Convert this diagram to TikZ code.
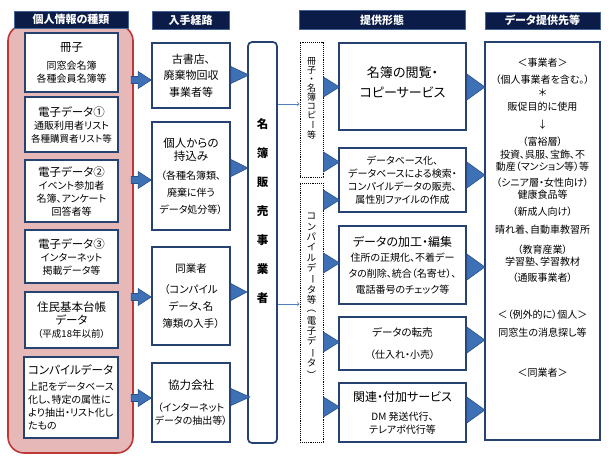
\documentclass[tikz,border=0pt]{standalone}
\usepackage{fontspec}
\setmainfont[RawFeature=+palt]{Noto Sans CJK JP}
\usepackage{xcolor}
\usetikzlibrary{positioning}
\definecolor{navy}{RGB}{12,28,72}
\definecolor{hdrline}{RGB}{70,100,150}
\definecolor{boxblue}{RGB}{38,66,112}
\definecolor{pinkbg}{RGB}{230,184,184}
\definecolor{pinkline}{RGB}{190,55,55}
\definecolor{triblue}{RGB}{62,112,182}
\definecolor{tridark}{RGB}{40,80,140}
\definecolor{arrblue}{RGB}{80,130,190}
\newcommand\fta{\fontsize{11.5}{14}\selectfont}
\newcommand\vrt[1]{\rotatebox[origin=c]{-90}{#1}}
\newcommand\tri[3]{\draw[tri] #1 -- ++(0,-#2) -- ++(#3,#2) -- ++(-#3,#2) -- cycle;}
\newcommand\blk[1]{\draw[tri] #1 -- ++(-13,-8.5) -- ++(0,5) -- ++(-7,0) -- ++(0,7) -- ++(7,0) -- ++(0,5) -- cycle;}
\begin{document}
\begin{tikzpicture}[x=1pt,y=-1pt,
   hdr/.style={draw=hdrline,fill=navy,text=white,line width=0.8pt,inner sep=0pt,
      font=\bfseries\fontsize{11}{12}\selectfont},
   item/.style={draw=boxblue,fill=white,line width=1.7pt,align=center,inner sep=1pt,
      font=\fontsize{10}{13}\selectfont},
   tri/.style={fill=triblue,draw=tridark,line width=0.6pt},
   dots/.style={draw,densely dotted,line width=0.9pt},
   lnk/.style={->,draw=arrblue,line width=0.7pt},
   vtxt/.style={align=center,inner sep=0pt},
   dtxt/.style={inner sep=0pt,font=\fontsize{10}{12}\selectfont}]
   \useasboundingbox (0,0) rectangle (610,464);
   % left column
   \node[draw=pinkline,fill=pinkbg,line width=1.6pt,rounded corners=16,
      minimum width=125,minimum height=428] (bg) at (70.5,239) {};
   \node[hdr,minimum width=114,minimum height=17] (h1) at (71,19.5) {個人情報の種類};
   \node[item,minimum width=93,minimum height=59] (sa) at (71.5,62.5)
      {{\fta 冊子}\\[5pt]同窓会名簿\\各種会員名簿等};
   \node[item,minimum width=93,minimum height=55] (e1) at (71.5,124.5)
      {{\fta 電子データ①}\\通販利用者リスト\\{\fontsize{9.5}{13}\selectfont 各種購買者リスト等}};
   \node[item,minimum width=93,minimum height=62] (e2) at (71.5,191)
      {{\fta 電子データ②}\\イベント参加者\\名簿、アンケート\\回答者等};
   \node[item,minimum width=93,minimum height=53] (e3) at (71.5,256.5)
      {{\fta 電子データ③}\\インターネット\\掲載データ等};
   \node[item,minimum width=93,minimum height=56] (ju) at (71.5,320)
      {{\fta 住民基本台帳}\\{\fta データ}\\{\fontsize{9.5}{12}\selectfont （平成18年以前）}};
   \node[item,minimum width=94,minimum height=81,align=left] (co) at (71,397.5)
      {{\fta コンパイルデータ}\\[3pt]上記をデータベース\\化し、特定の属性に\\より抽出・リスト化し\\たもの};
   % acquisition
   \node[hdr,minimum width=77,minimum height=18] (h2) at (190.5,20) {入手経路};
   \node[item,minimum width=78,minimum height=65,font=\fontsize{11}{16.5}\selectfont] (ko) at (191,75.5)
      {古書店、\\廃棄物回収\\事業者等};
   \node[item,minimum width=78,minimum height=108] (kj) at (191,176)
      {{\fta 個人からの}\\{\fta 持込み}\\[6pt]（各種名簿類、\\[4pt]廃棄に伴う\\[4pt]データ処分等）};
   \node[item,minimum width=78,minimum height=98,font=\fontsize{10.5}{17}\selectfont] (dg) at (191,296)
      {同業者\\[4pt]（コンパイル\\データ、名\\簿類の入手）};
   \node[item,minimum width=78,minimum height=79] (ky) at (191,402.5)
      {{\fta 協力会社}\\[9pt]（インターネット\\データの抽出等）};
   \node[draw=boxblue,fill=white,line width=1.7pt,rounded corners=4,
      minimum width=29,minimum height=401] (mb) at (262.5,242.5) {};
   \node[vtxt,font=\bfseries\fontsize{11.5}{29}\selectfont] (mbt) at (262.5,211.5)
      {名\\簿\\販\\売\\事\\業\\者};
   \blk{(ko.west |- 0,80)}
   \blk{(kj.west |- 0,180)}
   \blk{(dg.west |- 0,297)}
   \blk{(ky.west |- 0,398)}
   \tri{(ko.east |- 0,75)}{8.5}{18}
   \tri{(kj.east |- 0,168)}{8.5}{17}
   \tri{(dg.east |- 0,292)}{8.5}{16}
   \tri{(ky.east |- 0,397)}{8.5}{19}
   % offer forms
   \node[hdr,minimum width=166,minimum height=19] (h3) at (382,20) {提供形態};
   \node[dots,minimum width=23,minimum height=135] (cp) at (311.5,109.5) {};
   \node[dots,minimum width=23,minimum height=259] (cm) at (311.5,312.5) {};
   \node[vtxt,font=\fontsize{9}{9}\selectfont] (cpt) at (311.5,98)
      {冊\\子\\・\\名\\簿\\コ\\ピ\\\vrt{ー}\\等};
   \node[vtxt,font=\fontsize{9.5}{10.3}\selectfont] (cmt) at (311.5,295)
      {コ\\ン\\パ\\イ\\ル\\デ\\\vrt{ー}\\タ\\等\\\vrt{（}\\電\\子\\デ\\\vrt{ー}\\タ\\\vrt{）}};
   \draw[lnk] (mb.east |- 0,104) -- (cp.west |- 0,104);
   \draw[lnk] (mb.east |- 0,304) -- (cm.west |- 0,304);
   \node[item,minimum width=127,minimum height=87] (et) at (402.5,86.5) {};
   \node[vtxt,font=\fontsize{13}{20}\selectfont] (ett) at (402.5,82) {名簿の閲覧・\\コピーサービス};
   \node[item,minimum width=127,minimum height=64,font=\fontsize{10}{13}\selectfont] (db) at (402.5,180)
      {データベース化、\\データベースによる検索・\\コンパイルデータの販売、\\属性別ファイルの作成};
   \node[item,minimum width=127,minimum height=78] (ka) at (402.5,265)
      {{\fontsize{12}{14}\selectfont データの加工・編集}\\[2pt]住所の正規化、不着デー\\[3pt]タの削除、統合（名寄せ）、\\[3pt]電話番号のチェック等};
   \node[item,minimum width=127,minimum height=53] (tb) at (402.5,343.5)
      {{\fontsize{10.5}{12}\selectfont データの転売}\\[9pt]（仕入れ・小売）};
   \node[item,minimum width=127,minimum height=59] (kr) at (402.5,412.5)
      {{\fontsize{12}{14}\selectfont 関連・付加サービス}\\[6pt]DM 発送代行、\\テレアポ代行等};
   \tri{(cp.east |- 0,87)}{10}{16}
   \tri{(cp.east |- 0,162)}{10}{16}
   \tri{(cm.east |- 0,200)}{10}{16}
   \tri{(cm.east |- 0,263)}{10}{16}
   \tri{(cm.east |- 0,342)}{10}{16}
   \tri{(cm.east |- 0,407)}{10}{16}
   % destinations
   \node[hdr,minimum width=115,minimum height=17] (h4) at (542.5,20.5) {データ提供先等};
   \node[item,minimum width=115,minimum height=398] (dt) at (542.5,241) {};
   \tri{(et.east |- 0,87)}{13}{18}
   \tri{(db.east |- 0,175)}{13}{18}
   \tri{(ka.east |- 0,267)}{13}{18}
   \tri{(tb.east |- 0,340)}{13}{18}
   \tri{(kr.east |- 0,410)}{13}{18}
   \foreach \y/\t [count=\i] in {63/＜事業者＞, 80/（個人事業者を含む。）, 93/＊,
      107/販促目的に使用, 125/↓, 142/（富裕層）, 155/投資、呉服、宝飾、不,
      167/動産（マンション等）等, 183/（シニア層・女性向け）, 195/健康食品等,
      212/（新成人向け）, 230/晴れ着、自動車教習所, 250/（教育産業）,
      262/学習塾、学習教材, 278/（通販事業者）, 315/＜（例外的に）個人＞,
      333/同窓生の消息探し等, 373/＜同業者＞}
      \node[dtxt] (t\i) at (542.5,\y) {\t};
\end{tikzpicture}
\end{document}
